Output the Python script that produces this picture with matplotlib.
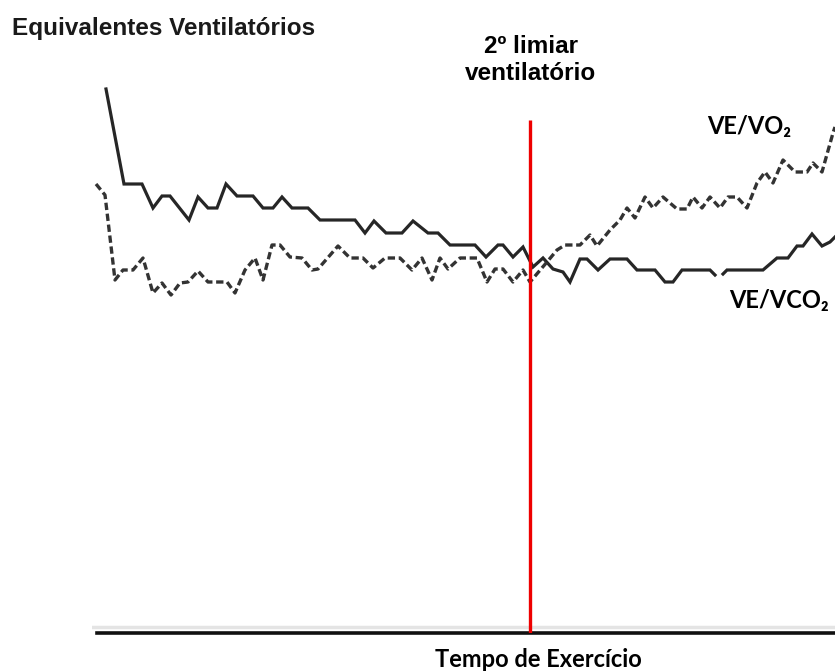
import numpy as np
import matplotlib
matplotlib.use("Agg")
import matplotlib.pyplot as plt

# tempo de exercicio (unidades arbitrarias) e equivalentes ventilatorios
tempo_vo2 = [4, 13, 23, 31, 41, 51, 61, 70, 79, 88, 96, 106, 116, 135, 143,
             153, 163, 171, 180, 188, 198, 210, 220, 226, 246, 258, 271, 281,
             293, 308, 320, 330, 340, 348, 356, 368, 385, 395, 403, 411, 421,
             431, 438, 455, 465, 473, 488, 498, 505, 518, 528, 535, 543, 553,
             561, 571, 585, 595, 601, 610, 618, 628, 636, 645, 655, 665, 673,
             681, 691, 703, 715, 721, 730, 741, 743]
ve_vo2 = [449, 438, 353, 363, 363, 375, 340, 350, 338, 350, 351, 362, 351,
          351, 340, 363, 375, 353, 388, 388, 376, 375, 363, 364, 387, 375,
          375, 365, 375, 375, 363, 375, 353, 375, 364, 375, 375, 351, 364,
          364, 351, 363, 351, 371, 383, 388, 388, 398, 387, 403, 413, 425,
          415, 436, 425, 436, 424, 424, 436, 425, 436, 425, 436, 436, 425,
          450, 461, 450, 473, 461, 461, 470, 461, 500, 506]

tempo_vco2 = [14, 32, 50, 61, 70, 78, 97, 106, 116, 125, 134, 145, 161, 171,
              181, 190, 200, 216, 228, 263, 273, 282, 294, 310, 321, 336, 346,
              358, 383, 394, 406, 411, 421, 431, 441, 451, 461, 471, 478, 488,
              495, 506, 518, 535, 545, 563, 573, 581, 590, 618, 623, np.nan,
              631, 635, 671, 685, 696, 705, 711, 720, 730, 738, 743]
ve_vco2 = [544, 449, 449, 425, 437, 437, 413, 436, 425, 425, 449, 437, 437,
           425, 425, 436, 425, 425, 413, 413, 400, 412, 400, 400, 412, 400,
           400, 388, 388, 376, 388, 388, 376, 386, 366, 375, 364, 361, 351,
           374, 374, 363, 374, 374, 363, 363, 351, 351, 363, 363, 358, np.nan,
           359, 363, 363, 375, 375, 387, 387, 399, 387, 391, 396]

limiar_tempo = 438   # 2o limiar ventilatorio
limiar_topo = 513

W, H = 835, 671
fig = plt.figure(figsize=(W / 100, H / 100), dpi=100)
ax = fig.add_axes([92 / W, (H - 633) / H, (W - 92) / W, 633 / H])
ax.set_xlim(0, 743)
ax.set_ylim(0, 633)

ax.plot(tempo_vco2, ve_vco2, color="#262626", lw=2.3, solid_joinstyle="miter")
ax.plot(tempo_vo2, ve_vo2, color="#333333", lw=2.4, linestyle=(0, (2.2, 1.1)))
ax.vlines(limiar_tempo, 0, limiar_topo, color="#ee0000", lw=2.4, zorder=5)

# eixo x: linha preta grossa + sombra cinza clara
ax.axhline(6, color="#e4e4e4", lw=2.5, zorder=0)
for s in ["top", "right", "left"]:
    ax.spines[s].set_visible(False)
ax.spines["bottom"].set_linewidth(2.6)
ax.spines["bottom"].set_color("#111111")
ax.spines["bottom"].set_bounds(5, 743)
ax.set_xticks([])
ax.set_yticks([])
ax.patch.set_alpha(0)


def px(x, y):
    return x / W, (H - y) / H


fig.text(*px(12, 35), "Equivalentes Ventilatórios", fontsize=17.5,
         fontweight="bold", color="#1a1a1a", family=["Liberation Sans", "DejaVu Sans"],
         va="baseline", ha="left")
fig.text(*px(531, 80), "2º limiar\nventilatório", fontsize=17.5,
         fontweight="bold", color="black", family=["Liberation Sans", "DejaVu Sans"],
         va="baseline", ha="center", multialignment="center", linespacing=1.2)
fig.text(*px(707, 134), "VE/VO₂", fontsize=17, fontweight="bold",
         color="black", family=["Lato", "DejaVu Sans"], va="baseline", ha="left")
fig.text(*px(729, 308), "VE/VCO₂", fontsize=17, fontweight="bold",
         color="black", family=["Lato", "DejaVu Sans"], va="baseline", ha="left")
fig.text(*px(435, 667), "Tempo de Exercício", fontsize=17, fontweight="bold",
         color="black", family=["Lato", "DejaVu Sans"], va="baseline", ha="left")

fig.savefig("out.png", dpi=100)
